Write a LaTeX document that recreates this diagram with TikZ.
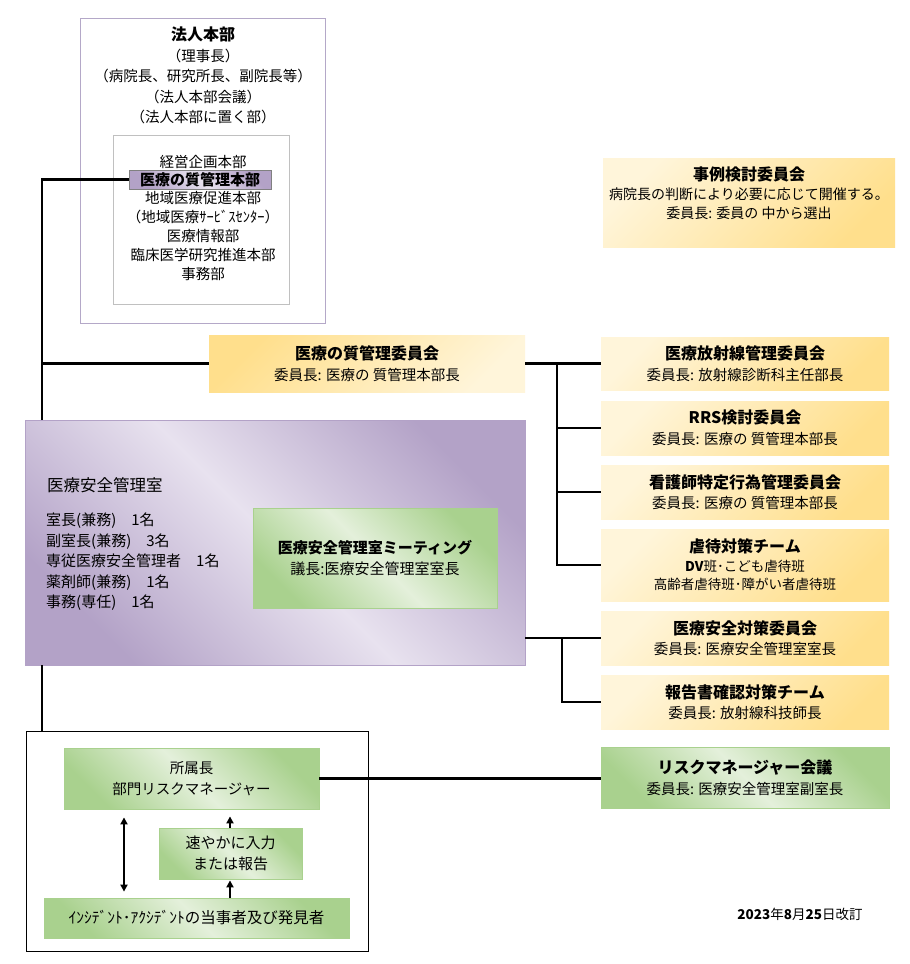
\documentclass[tikz,border=0pt]{standalone}
\usepackage{fontspec}
\setmainfont{Noto Sans CJK JP}
\usetikzlibrary{arrows.meta,calc}
\newcommand\fsz[2]{\fontsize{#1}{#2}\selectfont}
\definecolor{yl}{HTML}{FFF5DA}
\definecolor{yd}{HTML}{FFDF8C}
\definecolor{pd}{HTML}{B3A2C7}
\definecolor{pl}{HTML}{E8E2EF}
\definecolor{gd}{HTML}{A9D18E}
\definecolor{gl}{HTML}{E4F0DB}
\definecolor{hqline}{HTML}{B4A8C8}
\definecolor{inline}{HTML}{C0C0C0}
\tikzset{
  txt/.style={inner sep=0pt, align=center, text=black},
  ybox/.style={rectangle, draw=none, inner sep=0pt, align=center,
    left color=yl, right color=yd, shading angle=45,
    font=\fsz{14.5}{20.5}},
  ybox2/.style={rectangle, draw=none, inner sep=0pt, align=center,
    left color=yd, right color=yl, shading angle=45,
    font=\fsz{14.5}{20.5}},
  pbox/.style={rectangle, draw=pd, line width=0.8pt, inner sep=0pt,
    left color=pd, right color=pd, middle color=pl, shading angle=135},
  gbox/.style={rectangle, draw=gd, line width=0.8pt, inner sep=0pt, align=center,
    left color=gd, right color=gd, middle color=gl, shading angle=135,
    font=\fsz{15}{21}},
  plainbox/.style={rectangle, inner sep=0pt, fill=white},
  conn/.style={line width=2.6pt, draw=black},
  arr/.style={line width=1.8pt, draw=black, -{Triangle[length=7pt,width=7pt]}},
  darr/.style={line width=1.8pt, draw=black, {Triangle[length=7pt,width=7pt]}-{Triangle[length=7pt,width=7pt]}},
}
\begin{document}
\begin{tikzpicture}[x=1pt,y=-1pt]
\useasboundingbox[fill=white] (0,0) rectangle (910,964);

% ---- top box ----
\node[plainbox, draw=hqline, line width=0.8pt, minimum width=245, minimum height=305] (hq) at (202.5,170.5) {};
\node[txt, font=\fsz{16}{20}\bfseries] (hqt) at (203,34) {法人本部};
\node[txt, font=\fsz{14.5}{20.5}] (hqs) at (203,86.5) {（理事長）\\（病院長、研究所長、副院長等）\\（法人本部会議）\\（法人本部に置く部）};
\node[plainbox, draw=inline, line width=0.8pt, minimum width=176, minimum height=169] (inner) at (201,219.5) {};
\node[txt, font=\fsz{14.5}{19}] (d1) at (203,161.5) {経営企画本部};
\node[pbox, draw=gray, minimum width=142, minimum height=19, font=\fsz{15}{19}\bfseries] (qm) at (200,179.5) {医療の質管理本部};
\node[txt, font=\fsz{14.5}{18.8}] (d2) at (203,236) {地域医療促進本部\\（地域医療ｻｰﾋﾞｽｾﾝﾀｰ）\\医療情報部\\臨床医学研究推進本部\\事務部};

% ---- case committee ----
\node[ybox, minimum width=292, minimum height=89] (case) at (749,202.5) {};
\node[txt, font=\fsz{14}{19}] (caset) at (749,193.5) {{\fsz{16}{19}\bfseries 事例検討委員会}\\病院長の判断により必要に応じて開催する。\\委員長: 委員の 中から選出};

% ---- quality committee ----
\node[ybox2, minimum width=316, minimum height=57] (qmc) at (367,363.5) {{\fsz{16}{21}\bfseries 医療の質管理委員会}\\委員長: 医療の 質管理本部長};

% ---- safety office ----
\node[pbox, minimum width=500, minimum height=245] (safety) at (275,542.5) {};
\node[txt, anchor=west, font=\fsz{16.5}{20}] (saft) at (47,485) {医療安全管理室};
\node[txt, anchor=west, align=left, font=\fsz{15}{20.5}] (safl) at (46,562) {室長(兼務)　1名\\副室長(兼務)　3名\\専従医療安全管理者　1名\\薬剤師(兼務)　1名\\事務(専任)　1名};
\node[gbox, minimum width=244, minimum height=100] (meet) at (375,558) {{\bfseries 医療安全管理室ミーティング}\\議長:医療安全管理室室長};

% ---- right committees ----
\node[ybox, minimum width=288, minimum height=53] (rad) at (745,363.5) {{\fsz{16}{21}\bfseries 医療放射線管理委員会}\\委員長: 放射線診断科主任部長};
\node[ybox, minimum width=288, minimum height=54] (rrs) at (745,428) {{\fsz{16}{21}\bfseries RRS検討委員会}\\委員長: 医療の 質管理本部長};
\node[ybox, minimum width=288, minimum height=54] (nurse) at (745,492) {{\fsz{16}{21}\bfseries 看護師特定行為管理委員会}\\委員長: 医療の 質管理本部長};
\node[ybox, minimum width=288, minimum height=72, font=\fsz{13.5}{18.5}] (abuse) at (745,565) {{\fsz{16}{19}\bfseries 虐待対策チーム}\\{\bfseries DV}班･こども虐待班\\高齢者虐待班･障がい者虐待班};
\node[ybox, minimum width=288, minimum height=54] (anzen) at (745,638) {{\fsz{16}{21}\bfseries 医療安全対策委員会}\\委員長: 医療安全管理室室長};
\node[ybox, minimum width=288, minimum height=54] (report) at (745,702) {{\fsz{16}{21}\bfseries 報告書確認対策チーム}\\委員長: 放射線科技師長};
\node[gbox, minimum width=288, minimum height=61, font=\fsz{14.5}{20.5}] (rm) at (745,777.5) {{\fsz{16}{21}\bfseries リスクマネージャー会議}\\委員長: 医療安全管理室副室長};

% ---- bottom box ----
\node[plainbox, draw=black, line width=1pt, minimum width=342, minimum height=220] (bottom) at (197,841) {};
\node[gbox, minimum width=255, minimum height=61, font=\fsz{14.5}{21}] (mgr) at (191.5,778.5) {所属長\\部門リスクマネージャー};
\node[gbox, minimum width=143, minimum height=51] (quick) at (230.5,853.5) {速やかに入力\\または報告};
\node[gbox, minimum width=305, minimum height=40, font=\fsz{15.5}{20}] (inc) at (196.5,918) {ｲﾝｼﾃﾞﾝﾄ･ｱｸｼﾃﾞﾝﾄの当事者及び発見者};

% ---- date ----
\node[txt, font=\fsz{13.5}{16}] (date) at (800,914) {{\bfseries 2023}年{\bfseries 8}月{\bfseries 25}日改訂};

% ---- connectors ----
\coordinate (spx) at (42,0);
\coordinate (bx1) at (557,0);
\coordinate (bx2) at (562,0);
\coordinate (ax1) at (124,0);
\coordinate (ax2) at (230,0);
\draw[conn] (qm.west) -| (spx |- safety.north);
\draw[conn] (qmc.west) -- (spx |- qmc.west);
\draw[conn] (spx |- safety.south) -- (spx |- bottom.north);
\draw[conn] (qmc.east) -- (rad.west);
\draw[conn] (bx1 |- rad.west) |- (rrs.west);
\draw[conn] (bx1 |- rad.west) |- (nurse.west);
\draw[conn] (bx1 |- rad.west) |- (abuse.west);
\draw[conn] (safety.east |- anzen.west) -- (anzen.west);
\draw[conn] (bx2 |- anzen.west) |- (report.west);
\draw[conn] (mgr.east) -- (mgr.east -| rm.west);
\draw[darr] ([yshift=-8pt]ax1 |- mgr.south) -- ([yshift=6pt]ax1 |- inc.north);
\draw[arr] (ax2 |- quick.north) -- ([yshift=-7pt]ax2 |- mgr.south);
\draw[arr] (ax2 |- inc.north) -- ([yshift=-1pt]ax2 |- quick.south);
\end{tikzpicture}
\end{document}
